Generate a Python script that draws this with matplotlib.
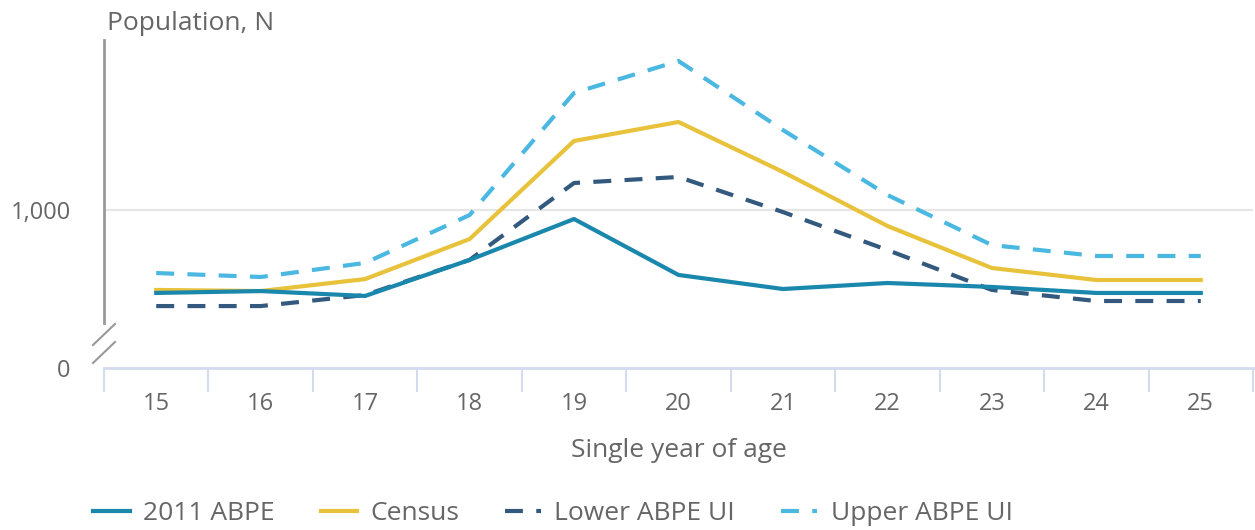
import matplotlib
matplotlib.use("Agg")
import matplotlib.pyplot as plt
from matplotlib.lines import Line2D

ages = [15, 16, 17, 18, 19, 20, 21, 22, 23, 24, 25]
abpe_2011 = [475, 487, 456, 684, 943, 589, 500, 538, 513, 475, 475]
census = [494, 487, 563, 816, 1437, 1557, 1241, 899, 633, 557, 557]
lower_ui = [392, 392, 462, 684, 1171, 1209, 987, 747, 494, 424, 424]
upper_ui = [601, 576, 665, 968, 1741, 1943, 1506, 1095, 778, 709, 709]
series_names = ["2011 ABPE", "Census", "Lower ABPE UI", "Upper ABPE UI"]
ytick_vals = [0, 1000]
ytick_labels = ["0", "1,000"]

plt.rcParams['font.family'] = ['Open Sans', 'DejaVu Sans']
TXT = '#666666'
C_ABPE = '#1a87ad'
C_CEN = '#e8c23a'
C_LOW = '#33597e'
C_UP = '#4ab8e0'

fig = plt.figure(figsize=(12.55, 5.30), dpi=100)
ax = fig.add_axes([104/1255, 1-368/530, 1149/1255, 328/530])

x = list(range(len(ages)))
lw = 3.0
DASH = (4.3, 3.2)
ax.plot(x, upper_ui, color=C_UP, lw=lw, dashes=DASH, dash_capstyle='butt', zorder=3)
ax.plot(x, lower_ui, color=C_LOW, lw=lw, dashes=DASH, dash_capstyle='butt', zorder=3)
ax.plot(x, census, color=C_CEN, lw=lw, zorder=4)
ax.plot(x, abpe_2011, color=C_ABPE, lw=lw, zorder=5)

ax.set_xlim(-0.5, len(ages) - 0.5)
ax.set_ylim(0, 328/0.158)

ax.set_xticks([i - 0.5 for i in range(len(ages) + 1)], minor=False)
ax.set_xticklabels([])
ax.set_xticks(x, minor=True)
ax.set_xticklabels([str(a) for a in ages], minor=True)
ax.tick_params(axis='x', which='major', length=17, width=1.5, color='#d3dbee')
ax.tick_params(axis='x', which='minor', length=0, labelsize=17, labelcolor=TXT, pad=17)

ax.set_yticks(ytick_vals)
ax.set_yticklabels(ytick_labels)
ax.tick_params(axis='y', length=0, labelsize=17, labelcolor=TXT, pad=24)

ax.axhline(1000, color='#e6e6e6', lw=1.5, zorder=1)

for s in ['top', 'right']:
    ax.spines[s].set_visible(False)
ax.spines['bottom'].set_color('#d3dbee')
ax.spines['bottom'].set_linewidth(2)
ax.spines['left'].set_color('#999999')
ax.spines['left'].set_linewidth(2)
ax.spines['left'].set_bounds(45/0.158, 328/0.158)

# axis break marks
for y0 in [(368-345)/328, (368-363)/328]:
    ax.plot([-11/1149, 11/1149], [y0, y0 + 21/328], transform=ax.transAxes,
            color='#999999', lw=1.5, clip_on=False)

ax.set_xlabel("Single year of age", fontsize=19, color=TXT, labelpad=16)
fig.text(107/1255, 1-24/530, "Population, N", fontsize=19, color=TXT, va='center', ha='left')

handles = [Line2D([], [], color=C_ABPE, lw=lw),
           Line2D([], [], color=C_CEN, lw=lw),
           Line2D([], [], color=C_LOW, lw=lw, dashes=DASH),
           Line2D([], [], color=C_UP, lw=lw, dashes=DASH)]
fig.legend(handles, series_names, loc='center', bbox_to_anchor=(553/1255, 1-514/530), ncol=4,
           frameon=False, fontsize=19, labelcolor=TXT, handlelength=1.37, handletextpad=0.5,
           columnspacing=1.75)

fig.savefig("out.png", dpi=100)
